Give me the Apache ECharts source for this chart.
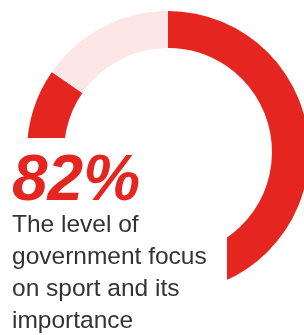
<!DOCTYPE html>
<html>
<head>
<meta charset="utf-8">
<script src="https://cdn.jsdelivr.net/npm/echarts@6/dist/echarts.min.js"></script>
<style>
html,body{margin:0;padding:0;background:#fff;}
#c{width:304px;height:335px;}
</style>
</head>
<body>
<div id="c"></div>
<script>
var categories = ['Focus', 'Remainder'];
var values = [84.6, 15.4];
var colors = ['#e52620', '#fce6e6'];
var headline = '82%';
var caption = ['The level of', 'government focus', 'on sport and its', 'importance'];

var chart = echarts.init(document.getElementById('c'), null, {renderer: 'canvas'});
chart.setOption({
  animation: false,
  series: [{
    type: 'pie',
    center: [168, 152],
    radius: [104, 141],
    startAngle: 90,
    clockwise: true,
    silent: true,
    label: {show: false},
    labelLine: {show: false},
    itemStyle: {borderWidth: 0},
    data: categories.map(function (c, i) {
      return {name: c, value: values[i], itemStyle: {color: colors[i]}};
    })
  }],
  graphic: [
    {type: 'rect', z: 10, shape: {x: 0, y: 138, width: 227, height: 200}, style: {fill: '#ffffff'}},
    {type: 'text', z: 20, left: 12, top: 150, style: {
      text: headline, fill: '#e52620',
      font: 'italic 900 64px "Liberation Sans", Arial, sans-serif'
    }},
    {type: 'text', z: 20, left: 12, top: 209, style: {
      text: caption.join('\n'), fill: '#333333', lineHeight: 32,
      font: '24.5px "Liberation Sans", Arial, sans-serif'
    }}
  ]
});
</script>
</body>
</html>
